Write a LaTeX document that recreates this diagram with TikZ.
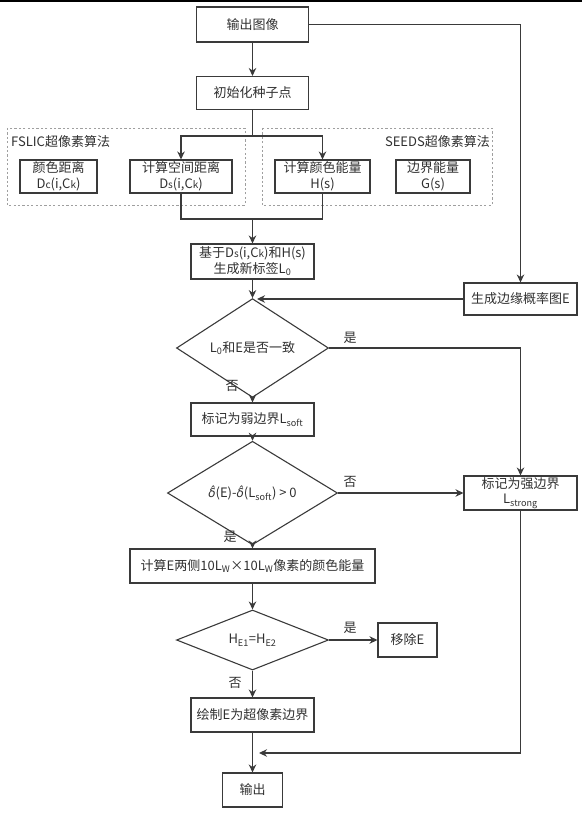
\documentclass[tikz,border=0pt]{standalone}
\usepackage{fontspec}
\setmainfont{Noto Sans CJK SC}
\newfontfamily\djv{DejaVu Sans}[ItalicFont=DejaVu Sans Oblique]
\usetikzlibrary{shapes.geometric,arrows.meta}
\definecolor{lc}{HTML}{3A3A3A}
\definecolor{tx}{HTML}{303030}
\newcommand\smallch[1]{{\fontsize{10}{12}\selectfont #1}}
\newcommand\dhat{{\djv\itshape\fontsize{12}{14}\selectfont δ̂}}
\begin{document}
\begin{tikzpicture}[x=1pt,y=-1pt,
  every node/.style={text=tx, font=\fontsize{13}{15.5}\selectfont},
  box/.style={draw=lc, line width=1.1pt, rectangle, inner sep=0pt, align=center},
  dia/.style={draw=lc, line width=1.1pt, diamond, inner sep=0pt, align=center},
  wire/.style={draw=lc, line width=1.1pt},
  arr/.style={draw=lc, line width=1.1pt, -{Stealth[length=8pt,width=7.5pt]}},
  lbl/.style={inner sep=0pt},
  grp/.style={draw=gray!75, line width=0.8pt, dash pattern=on 2.2pt off 2.2pt}
]
\useasboundingbox (0,0) rectangle (582,813);
\fill[black] (0,0) rectangle (582,2);

% groups
\draw[grp] (7,128) rectangle (245,205);
\draw[grp] (262,128) rectangle (492,205);
\node[lbl, anchor=west] (gl) at (11,142) {FSLIC超像素算法};
\node[lbl, anchor=east] (gr) at (490,142) {SEEDS超像素算法};

% nodes
\node[box, minimum width=112pt, minimum height=35pt] (n1) at (252.5,24.5) {输出图像};
\node[box, minimum width=112pt, minimum height=33pt] (n2) at (252.5,93) {初始化种子点};
\node[box, minimum width=77pt, minimum height=33pt] (b1) at (58.5,176.5) {颜色距离\\D\smallch{c}(i,C\smallch{k})};
\node[box, minimum width=102pt, minimum height=33pt] (b2) at (181,176.5) {计算空间距离\\D\smallch{s}(i,C\smallch{k})};
\node[box, minimum width=95pt, minimum height=33pt] (b3) at (322.5,176.5) {计算颜色能量\\H(s)};
\node[box, minimum width=74pt, minimum height=33pt] (b4) at (433,176.5) {边界能量\\G(s)};
\node[box, minimum width=123pt, minimum height=35pt] (n4) at (252.5,261.5) {基于D\smallch{s}(i,C\smallch{k})和H(s)\\生成新标签L\textsubscript{0}};
\node[box, minimum width=113pt, minimum height=32pt] (nE) at (520.5,299) {生成边缘概率图E};
\node[dia, minimum width=152pt, minimum height=58pt] (d1) at (252.5,348) {L\textsubscript{0}和E是否一致};
\node[box, minimum width=123pt, minimum height=33pt] (n5) at (252.5,419.5) {标记为弱边界L\textsubscript{soft}};
\node[dia, minimum width=170pt, minimum height=60pt] (d2) at (252.5,493) {\dhat(E)-\dhat(L\textsubscript{soft}) > 0};
\node[box, minimum width=113pt, minimum height=34pt] (nS) at (520.5,493) {标记为强边界\\L\textsubscript{strong}};
\node[box, minimum width=245pt, minimum height=34pt] (n6) at (252.5,566) {计算E两侧10L\textsubscript{W}×10L\textsubscript{W}像素的颜色能量};
\node[dia, minimum width=152pt, minimum height=57pt] (d3) at (252.5,640) {H\textsubscript{E1}=H\textsubscript{E2}};
\node[box, minimum width=59pt, minimum height=34pt] (n7) at (407.5,640) {移除E};
\node[box, minimum width=123pt, minimum height=34pt] (n8) at (252.5,715) {绘制E为超像素边界};
\node[box, minimum width=60pt, minimum height=34pt] (n9) at (252.5,790) {输出};

% labels
\node[lbl] (y1) at (350,338) {是};
\node[lbl] (f1) at (232,386) {否};
\node[lbl] (f2) at (350,482) {否};
\node[lbl] (y2) at (230,537) {是};
\node[lbl] (y3) at (350,628) {是};
\node[lbl] (f3) at (235,683) {否};

% connectors
\draw[arr] (n1) -- (n2);
\coordinate (sp) at (252.5,136);
\draw[wire] (n2) -- (sp);
\draw[arr] (sp) -| (b2);
\draw[arr] (sp) -| (b3);
\coordinate (jn) at (252.5,219);
\draw[wire] (b2) |- (jn);
\draw[wire] (b3) |- (jn);
\draw[arr] (jn) -- (n4);
\draw[arr] (n1) -| (nE);
\coordinate (eA) at (257,299);
\draw[arr] (nE) -- (eA);
\draw[arr] (n4) -- (d1);
\draw[arr] (d1) -| (nS);
\draw[arr] (d1) -- (n5);
\draw[arr] (n5) -- (d2);
\draw[arr] (d2) -- (nS);
\draw[arr] (d2) -- (n6);
\draw[arr] (n6) -- (d3);
\draw[arr] (d3) -- (n7);
\draw[arr] (d3) -- (n8);
\draw[arr] (n8) -- (n9);
\coordinate (eB) at (259,753);
\draw[arr] (nS) |- (eB);
\end{tikzpicture}
\end{document}
